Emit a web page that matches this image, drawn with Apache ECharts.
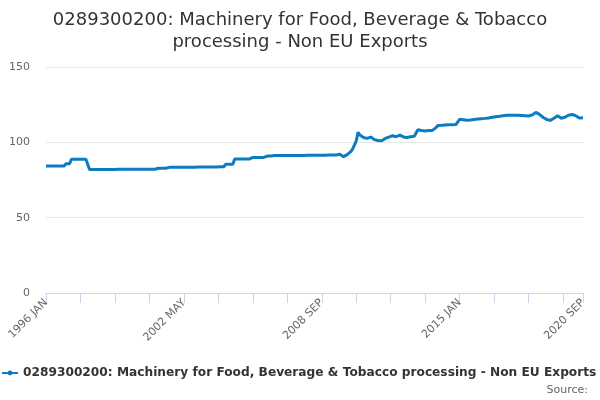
<!DOCTYPE html>
<html>
<head>
<meta charset="utf-8">
<script src="https://cdn.jsdelivr.net/npm/echarts@6/dist/echarts.min.js"></script>
<style>
html,body{margin:0;padding:0;background:#fff;}
#chart{width:600px;height:400px;}
</style>
</head>
<body>
<div id="chart"></div>
<script>
const titleText = "0289300200: Machinery for Food, Beverage & Tobacco\nprocessing - Non EU Exports";
const seriesName = "0289300200: Machinery for Food, Beverage & Tobacco processing - Non EU Exports";
const monthNames = ["JAN","FEB","MAR","APR","MAY","JUN","JUL","AUG","SEP","OCT","NOV","DEC"];
const startYear = 1996;
const yTicks = [0, 50, 100, 150];
const values = [
// 1996
84.3,84.3,84.3,84.3,84.3,84.3,84.3,84.3,84.3,84.3,84.3,85.8,
// 1997
85.8,85.8,88.8,88.8,88.8,88.8,88.8,88.8,88.8,88.8,88.8,88.8,
// 1998
82.0,82.0,82.0,82.0,82.0,82.0,82.0,82.0,82.0,82.0,82.0,82.0,
// 1999
82.0,82.0,82.0,82.1,82.1,82.1,82.1,82.1,82.1,82.1,82.1,82.1,
// 2000
82.1,82.1,82.1,82.1,82.1,82.1,82.1,82.1,82.1,82.1,82.1,82.1,
// 2001
82.1,82.8,82.8,82.8,82.8,82.8,82.8,83.4,83.4,83.4,83.4,83.4,
// 2002
83.5,83.5,83.5,83.5,83.5,83.5,83.5,83.5,83.5,83.5,83.5,83.5,
// 2003
83.6,83.6,83.6,83.6,83.6,83.6,83.6,83.6,83.6,83.7,83.7,83.7,
// 2004
83.8,83.8,83.8,85.4,85.4,85.4,85.4,85.4,88.9,88.9,88.9,88.9,
// 2005
88.9,88.9,88.9,88.9,88.9,90.0,90.0,90.0,90.0,90.0,90.0,90.0,
// 2006
90.0,90.9,90.9,90.9,90.9,90.9,91.3,91.3,91.3,91.3,91.3,91.3,
// 2007
91.3,91.3,91.3,91.3,91.3,91.3,91.3,91.3,91.3,91.3,91.3,91.3,
// 2008
91.4,91.4,91.4,91.4,91.4,91.4,91.5,91.5,91.5,91.5,91.5,91.5,
// 2009
91.6,91.6,91.6,91.6,91.6,92.0,92.1,91.2,90.5,90.7,91.8,92.5,
// 2010
93.8,95.5,98.2,101.0,106.6,104.8,103.5,103.2,102.8,102.6,102.6,103.5,
// 2011
102.5,101.8,101.4,101.2,101.3,101.0,101.5,102.6,102.2,103.5,104.8,104.4,
// 2012
103.8,103.7,104.3,104.8,104.5,103.6,103.0,103.2,103.5,103.7,103.9,104.0,
// 2013
104.2,108.4,108.2,107.9,107.6,107.5,107.5,107.8,108.0,107.9,108.0,109.8,
// 2014
111.2,111.3,111.3,111.4,111.5,111.5,111.6,111.7,111.7,111.8,111.9,111.9,
// 2015
115.3,115.5,115.0,114.7,114.6,114.7,114.8,115.0,115.2,115.3,115.5,115.6,
// 2016
115.7,115.8,115.9,116.0,116.2,116.4,116.6,116.8,117.0,117.2,117.3,117.5,
// 2017
117.7,117.8,117.9,118.0,117.9,117.8,117.9,118.0,117.9,117.8,117.8,117.7,
// 2018
117.7,117.6,117.5,117.7,118.2,119.2,119.9,119.3,118.6,117.5,116.5,116.0,
// 2019
115.2,114.4,114.6,115.2,116.0,116.8,117.6,116.8,116.0,116.2,116.6,117.4,
// 2020
118.0,118.8,118.5,118.0,117.7,117.0,116.2,116.4,116.3
];

const categories = values.map((v, i) => (startYear + Math.floor(i / 12)) + " " + monthNames[i % 12]);
const lastIdx = values.length - 1;

const chart = echarts.init(document.getElementById('chart'), null, {renderer: 'canvas'});
chart.setOption({
  animation: false,
  backgroundColor: '#ffffff',
  textStyle: {fontFamily: 'DejaVu Sans'},
  title: {
    text: titleText,
    left: 'center',
    top: 4,
    textStyle: {fontFamily: 'DejaVu Sans', fontSize: 18, fontWeight: 'normal', color: '#333333', lineHeight: 22}
  },
  grid: {left: 46, right: 17, top: 67, bottom: 107},
  xAxis: {
    type: 'category',
    data: categories,
    boundaryGap: false,
    axisLine: {lineStyle: {color: '#ccd6eb', width: 1}},
    axisTick: {
      show: true, length: 10, lineStyle: {color: '#ccd6eb'},
      interval: (i) => i % 19 === 0 || i === lastIdx
    },
    axisLabel: {
      rotate: 45, fontSize: 11, color: '#666666', fontFamily: 'DejaVu Sans', margin: 8,
      interval: (i) => i % 76 === 0 || i === lastIdx
    },
    splitLine: {show: false}
  },
  yAxis: {
    type: 'value',
    min: yTicks[0], max: yTicks[yTicks.length - 1], interval: 50,
    axisLine: {show: false},
    axisTick: {show: false},
    axisLabel: {fontSize: 11, color: '#666666', fontFamily: 'DejaVu Sans', margin: 16},
    splitLine: {lineStyle: {color: '#e6e6e6', width: 1}}
  },
  legend: {
    bottom: 16,
    left: -4,
    itemWidth: 16,
    itemHeight: 6,
    itemGap: 5,
    textStyle: {fontSize: 12.2, fontWeight: 'bold', color: '#333333', fontFamily: 'DejaVu Sans'},
    data: [seriesName]
  },
  series: [{
    name: seriesName,
    type: 'line',
    data: values,
    symbol: 'circle',
    symbolSize: 4,
    showSymbol: false,
    color: '#0b7cc2',
    lineStyle: {width: 3, color: '#0b7cc2'}
  }],
  graphic: [{
    type: 'text',
    right: 12,
    bottom: 4,
    style: {text: 'Source:', fontSize: 11, fill: '#666666', fontFamily: 'DejaVu Sans'}
  }]
});
</script>
</body>
</html>
